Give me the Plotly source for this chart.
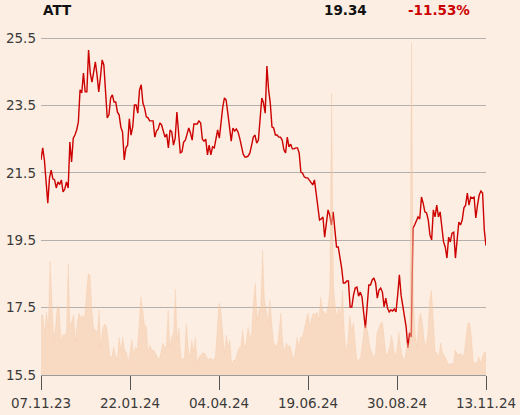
import plotly.graph_objects as go

title_name = "ATT"
last_price = "19.34"
change_pct = "-11.53%"

x_tick_labels = ["07.11.23", "22.01.24", "04.04.24", "19.06.24", "30.08.24", "13.11.24"]
y_ticks = [15.5, 17.5, 19.5, 21.5, 23.5, 25.5]

prices = [
    21.88, 22.24, 21.88, 21.08, 20.60, 21.35, 21.58, 21.32, 21.29, 21.05, 21.23, 21.15, 21.29, 20.93, 21.02, 21.23,
    21.05, 22.41, 21.82, 22.53, 22.62, 22.77, 23.01, 23.96, 23.87, 24.46, 23.90, 23.90, 25.14, 24.46, 24.19, 24.49,
    24.79, 24.40, 23.90, 24.34, 24.85, 24.70, 23.96, 23.13, 23.22, 23.72, 23.81, 23.60, 23.60, 23.30, 23.22, 22.86,
    22.71, 21.88, 22.24, 22.32, 23.10, 22.62,
    22.86, 23.51, 23.51, 23.27, 23.96, 24.11, 23.57, 23.42, 23.16, 23.13, 23.04, 23.04, 23.04, 22.56, 22.74, 22.80,
    22.98, 22.92, 22.77, 22.56, 22.65, 22.24, 22.77, 22.71, 22.32, 22.53, 23.30, 22.71, 22.09, 22.12, 22.41, 22.47,
    22.62, 22.83, 22.68, 22.47, 22.95, 22.95, 22.95, 23.04, 22.98, 22.50, 22.44, 22.50, 22.03, 22.32, 22.03, 22.27,
    22.24, 22.50, 22.77, 22.53, 23.07,
    23.45, 23.72, 23.66, 23.27, 22.86, 22.44, 22.83, 22.74, 22.80, 22.71, 22.53, 22.27, 22.06, 21.97, 21.97, 22.00,
    22.09, 22.32, 22.56, 22.62, 22.38, 22.47, 23.13, 23.72, 23.57, 23.27, 24.67, 23.96, 23.57, 22.86, 22.83, 22.62,
    22.62, 22.56, 22.56, 22.47, 22.18, 22.09, 22.56, 22.27, 22.35, 22.21, 22.21, 22.24, 22.24, 22.09, 21.52, 21.49,
    21.38, 21.35, 21.35, 21.29,
    21.23, 21.14, 21.29, 20.93, 20.54, 20.10, 20.13, 20.19, 19.59, 20.01, 20.40, 20.25, 19.95, 20.34, 19.80, 19.30,
    19.30, 19.00, 18.68, 18.23, 18.23, 18.29, 18.29, 17.52, 17.52, 17.87, 18.08, 18.11, 17.84, 17.96, 17.81, 17.34,
    16.89, 17.52, 18.17, 18.17, 18.32, 18.38, 18.23, 17.78, 18.02, 18.08, 17.96, 17.52, 17.78, 17.49, 17.37, 17.43,
    17.40, 17.46, 17.37, 17.87, 18.47, 17.87, 17.58, 17.34, 16.92, 16.30, 16.75, 16.63,
    19.86, 19.95, 20.10, 20.19, 20.13, 20.78, 20.60, 20.34, 20.31, 20.10, 19.65, 19.51, 20.40, 20.19, 20.54, 20.19,
    20.34, 19.80, 19.45, 19.30, 18.97, 19.59, 19.45, 19.71, 19.74, 18.97, 19.65, 20.04, 19.95, 20.10, 20.46, 20.54,
    20.90, 20.54, 20.78, 20.75, 20.78, 20.16, 20.54, 20.84, 20.96, 20.90, 19.80, 19.34,
]

# volume (thousands of shares)
volumes = [
    600, 600, 420, 630, 480, 1140, 750, 350, 480, 690, 670, 320, 400, 400, 420, 1110, 480, 550, 600, 330, 530, 620,
    570, 600, 550, 820, 1010, 1000, 650, 460, 450, 420, 650, 280, 470, 510, 490, 350, 180, 180, 280, 200, 150, 380,
    250, 380, 250, 230, 130, 220, 360, 200, 280, 250, 580, 780, 650, 500, 480, 220, 300, 250, 250, 220, 180, 150,
    220, 320, 280,
    280, 650, 280, 380, 420, 860, 350, 470, 180, 150, 180, 510, 280, 170, 350, 230, 380, 120, 180, 200, 220, 220,
    180, 150, 170, 160, 150, 180, 420, 720, 650, 420, 220, 400, 280, 350, 100, 150, 150, 220, 270, 280, 450, 270,
    330, 480, 370, 420, 750, 920, 550, 650, 680, 1250, 750, 650, 530, 750, 550, 330, 300, 280, 420, 620, 350, 220,
    320, 280, 300, 220, 150, 230, 380, 280, 380, 380, 480, 550, 620, 480, 570, 620, 600, 630, 550, 780, 650, 620,
    600, 680, 850, 2820, 880, 680, 580, 680,
    580, 850, 420, 220, 350, 600, 450, 520, 280, 130, 150, 180, 320, 470, 500, 420, 280, 220, 180, 200, 420,
    470, 520, 530, 350, 200, 220, 280, 400, 280, 180, 250, 430, 280, 180, 150, 220, 320, 250, 3320, 750, 420,
    280, 550, 620, 520, 350, 280, 420, 750, 850, 580, 230, 220, 180, 320, 220, 200, 150, 120, 100, 120,
    100, 250, 220, 200, 220, 180, 220, 350, 520, 520, 380, 130, 120, 120, 180, 120, 170, 230, 220,
]

n = len(prices)
nv = len(volumes)
tick_vals = [i * (n - 1) / 5 for i in range(6)]

bg = "#FCEEE2"
fig = go.Figure()

fig.add_trace(go.Scatter(
    x=list(range(nv)), y=volumes, xaxis="x2", yaxis="y2",
    mode="lines", line=dict(width=0.5, color="rgba(244,196,160,0.5)"),
    fill="tozeroy", fillcolor="rgba(244,196,160,0.5)", hoverinfo="skip", showlegend=False,
))
fig.add_trace(go.Scatter(
    x=list(range(n)), y=prices, mode="lines",
    line=dict(color="#CC0000", width=1.4), showlegend=False,
))

fig.update_layout(
    width=520, height=415,
    margin=dict(l=41, r=34, t=35, b=40, autoexpand=False),
    paper_bgcolor=bg, plot_bgcolor=bg,
    font=dict(family="DejaVu Sans", size=13.5, color="#3a3a3a"),
    xaxis=dict(
        range=[0, n - 1], tickvals=tick_vals, ticktext=x_tick_labels,
        ticks="outside", ticklen=14, tickcolor="#555555", tickwidth=1,
        showgrid=False, showline=True, linecolor="#9a9a9a", linewidth=1,
        zeroline=False, ticklabelstandoff=2, automargin=False,
    ),
    xaxis2=dict(range=[0, nv - 1], overlaying="x", visible=False),
    yaxis=dict(
        range=[15.5, 15.5 + 340 / 33.7], tickvals=y_ticks,
        ticktext=[f"{v:.1f}" for v in y_ticks],
        showgrid=True, gridcolor="#b5b0ab", gridwidth=1, zeroline=False,
        showline=False, ticks="", ticklabelstandoff=4, automargin=False,
    ),
    yaxis2=dict(range=[0, 3400], overlaying="y", visible=False),
    annotations=[
        dict(text=f"<b>{title_name}</b>", xref="paper", yref="paper", x=0, y=1.0735,
             xanchor="left", yanchor="middle", showarrow=False,
             font=dict(family="DejaVu Sans", size=13.5, color="#111111")),
        dict(text=f"<b>{last_price}</b>", xref="paper", yref="paper", x=0.737, y=1.0735,
             xanchor="right", yanchor="middle", showarrow=False,
             font=dict(family="DejaVu Sans", size=13.5, color="#111111")),
        dict(text=f"<b>{change_pct}</b>", xref="paper", yref="paper", x=0.9685, y=1.0735,
             xanchor="right", yanchor="middle", showarrow=False,
             font=dict(family="DejaVu Sans", size=13.5, color="#CC0000")),
    ],
)

fig.write_html(
    "out.html",
    config={"displayModeBar": False},
    post_script="document.body.style.margin='0';document.body.style.padding='0';"
                "document.body.style.overflow='hidden';",
)
